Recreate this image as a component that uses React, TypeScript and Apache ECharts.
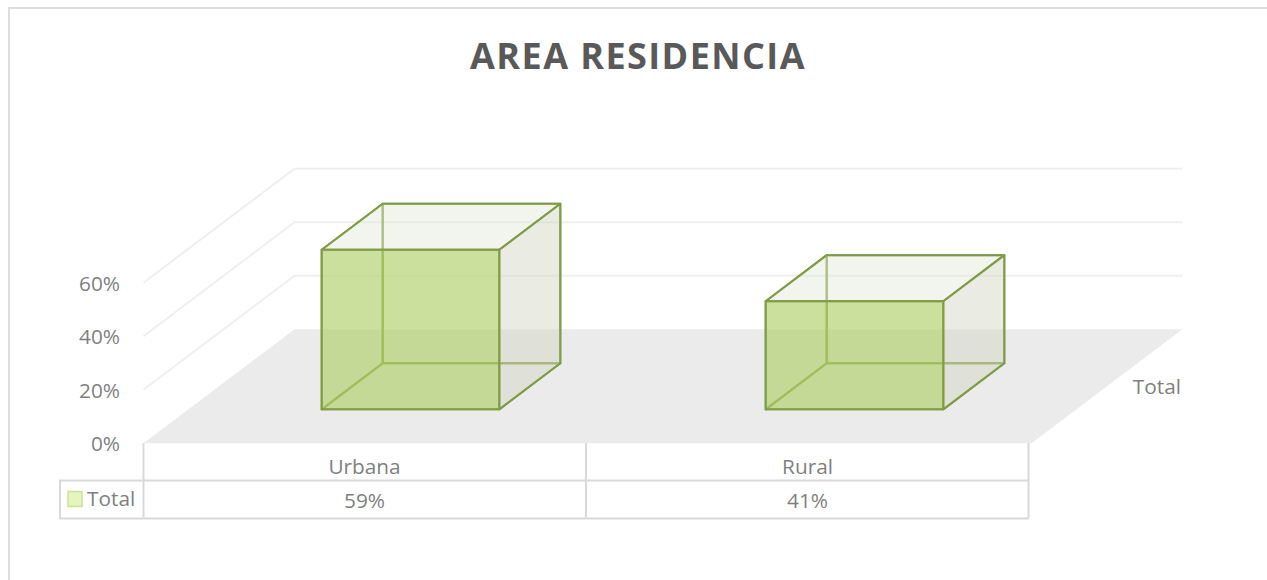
import React, { useEffect, useRef } from "react";
import * as echarts from "echarts";

const chartTitle = "AREA RESIDENCIA";
const categories = ["Urbana", "Rural"];
const seriesName = "Total";
const barValues = [59.6, 40.4];
const tableLabels = ["59%", "41%"];
const valueTicks = [0, 20, 40, 60];

const FONT = "'Open Sans', sans-serif";
const TEXT = "#7f7f7f";
const TABLE_LINE = "#d9d9d9";
const GRID_LINE = "#efefef";
const EDGE = "#7f9c45";
const DEPTH_X = 151;
const DEPTH_Y = 114;
const BAR_FRONT = 0.298;
const BAR_BACK = 0.702;
const BAR_WIDTH = 0.4;

const project = (x: number, y: number, d: number): [number, number] => [x + DEPTH_X * d, y - DEPTH_Y * d];

function renderWall(params: any, api: any) {
  const cs = params.coordSys;
  const y = api.coord([0, api.value(1)])[1];
  if (api.value(1) === 0) {
    return {
      type: "polygon",
      shape: {
        points: [
          [cs.x, y],
          [cs.x + cs.width, y],
          project(cs.x + cs.width, y, 1),
          project(cs.x, y, 1),
        ],
      },
      style: { fill: "#ebebeb" },
    };
  }
  return {
    type: "polyline",
    shape: { points: [[cs.x, y], project(cs.x, y, 1), project(cs.x + cs.width, y, 1)] },
    style: { fill: "none", stroke: GRID_LINE, lineWidth: 2 },
  };
}

function renderBox(params: any, api: any) {
  const [cx, base] = api.coord([api.value(0), 0]);
  const top = api.coord([api.value(0), api.value(1)])[1];
  const half = (api.size([1, 0])[0] * BAR_WIDTH) / 2;
  const fb = project(cx - half, base, BAR_FRONT);
  const fbr = project(cx + half, base, BAR_FRONT);
  const ft = project(cx - half, top, BAR_FRONT);
  const ftr = project(cx + half, top, BAR_FRONT);
  const bb = project(cx - half, base, BAR_BACK);
  const bbr = project(cx + half, base, BAR_BACK);
  const bt = project(cx - half, top, BAR_BACK);
  const btr = project(cx + half, top, BAR_BACK);
  const poly = (points: number[][], fill: string) => ({
    type: "polygon",
    shape: { points },
    style: { fill, stroke: EDGE, lineWidth: 2, lineJoin: "round" },
  });
  return {
    type: "group",
    children: [
      poly([bb, bbr, btr, bt], "rgba(255,255,255,0)"),
      poly([fb, fbr, bbr, bb], "rgba(255,255,255,0)"),
      poly([fb, ft, bt, bb], "rgba(255,255,255,0)"),
      poly([ft, ftr, btr, bt], "rgba(225,232,215,0.45)"),
      poly([fbr, bbr, btr, ftr], "rgba(211,213,193,0.47)"),
      poly([fb, fbr, ftr, ft], "rgba(175,208,103,0.65)"),
    ],
  };
}

const hLine = (x1: number, y: number, x2: number, color = TABLE_LINE) => ({
  type: "line",
  shape: { x1, y1: y, x2, y2: y },
  style: { stroke: color, lineWidth: 2 },
});
const vLine = (x: number, y1: number, y2: number, color = TABLE_LINE) => ({
  type: "line",
  shape: { x1: x, y1, x2: x, y2 },
  style: { stroke: color, lineWidth: 2 },
});
const label = (text: string, x: number, y: number, align = "center") => ({
  type: "text",
  x,
  y,
  style: { text, fill: TEXT, font: `20.8px ${FONT}`, align, verticalAlign: "middle" },
});

export default function App() {
  const ref = useRef<HTMLDivElement>(null);
  useEffect(() => {
    document.body.style.margin = "0";
    const chart = echarts.init(ref.current!, undefined, { renderer: "svg" });
    chart.setOption({
      animation: false,
      backgroundColor: "#ffffff",
      title: {
        text: chartTitle,
        left: 633,
        top: 32,
        textAlign: "center",
        textStyle: { fontFamily: FONT, fontSize: 36, fontWeight: "bold", color: "#595959" },
      },
      grid: { left: 143.5, top: 282.7, width: 888, height: 160.6 },
      xAxis: {
        type: "category",
        data: categories,
        axisLabel: { show: false },
        axisLine: { show: false },
        axisTick: { show: false },
        splitLine: { show: false },
      },
      yAxis: {
        type: "value",
        min: 0,
        max: 60,
        interval: 20,
        axisLabel: {
          formatter: "{value}%",
          color: TEXT,
          fontFamily: FONT,
          fontSize: 20.8,
          margin: 23.5,
        },
        axisLine: { show: false },
        axisTick: { show: false },
        splitLine: { show: false },
      },
      series: [
        {
          type: "custom",
          name: "walls",
          silent: true,
          renderItem: renderWall,
          data: valueTicks.map((t) => [0, t]),
          z: 1,
        },
        {
          type: "custom",
          name: seriesName,
          renderItem: renderBox,
          data: barValues.map((v, i) => [i, v]),
          z: 2,
        },
      ],
      graphic: [
        hLine(8, 8, 1267, "#dedede"),
        vLine(9, 8, 580, "#dedede"),
        hLine(59, 480.5, 1029),
        hLine(59, 518.5, 1029),
        vLine(60, 480, 519),
        vLine(143.5, 443, 519),
        vLine(586, 443, 519),
        vLine(1028.5, 443, 519),
        {
          type: "rect",
          shape: { x: 68, y: 491.5, width: 14, height: 15 },
          style: { fill: "#e6f5bd", stroke: "#c9e39a", lineWidth: 1.5 },
        },
        label(seriesName, 87, 498, "left"),
        label(categories[0], 364.5, 466),
        label(categories[1], 807.5, 466),
        label(tableLabels[0], 364.5, 499.5),
        label(tableLabels[1], 807.5, 499.5),
        label(seriesName, 1181, 386, "right"),
      ],
    });
    ref.current!.querySelectorAll("text").forEach((el) => {
      if (el.textContent === chartTitle) (el as SVGTextElement).style.letterSpacing = "1.43px";
    });
    return () => chart.dispose();
  }, []);
  return <div ref={ref} style={{ position: "absolute", left: 0, top: 0, width: 1267, height: 580 }} />;
}
